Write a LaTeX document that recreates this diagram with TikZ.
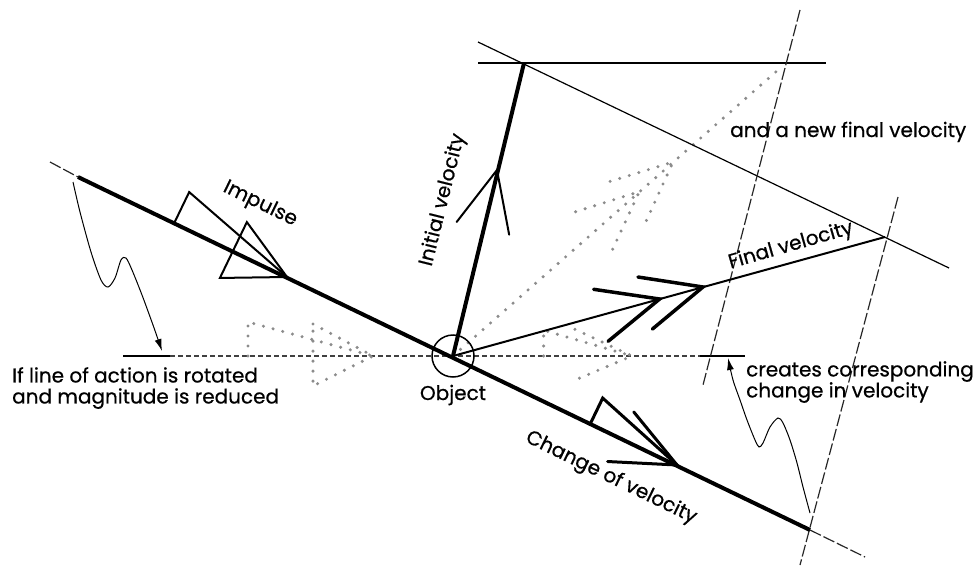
\documentclass[tikz,border=0pt]{standalone}
\usepackage{fontspec}
\setmainfont{Poppins}[FakeBold=0.6]
\usetikzlibrary{arrows.meta, calc}
\tikzset{
    txt/.style={font=\fontsize{20}{21}\selectfont, inner sep=0pt},
    thin-line/.style={color=black, line width=1.2pt},
    thick-line/.style={color=black, line width=4pt},
    vec-line/.style={color=black, line width=2pt},
    dash-line/.style={color=black!85, line width=1.2pt, dash pattern=on 12pt off 3pt},
    short-dash/.style={color=black!75, line width=1.3pt, dash pattern=on 5pt off 3pt},
    dot-line/.style={color=black!45, line width=3.4pt, line cap=round, dash pattern=on 0pt off 10pt},
    squiggle/.style={color=black, line width=1pt, -{Latex[length=12pt, width=7pt]}},
    head/.style={color=black, line width=3pt, line cap=round},
    vhead/.pic={\draw (-60,-27) -- (0,0) -- (-60,27);},
    dvhead/.pic={\draw (-60,-27) -- (0,0) -- (-60,27); \draw (-106,-27) -- (-45,0) -- (-106,27);},
    impulsehead/.pic={\draw (-125,0) -- (-125,-34) -- (0,0); \draw (-60,-32) -- (0,0) -- (-60,30) -- cycle;},
    changehead/.pic={\draw (-96,0) -- (-96,-28) -- (0,0); \draw (-62,-29) -- (0,0) -- (-64,27);}
}
\begin{document}
\begin{tikzpicture}[x=1pt, y=-1pt]
    \useasboundingbox (0,0) rectangle (976,567);

    \coordinate (O) at (453,356);
    \coordinate (A) at (524,63);
    \coordinate (B) at (885,237);
    \coordinate (C) at (810,530);
    \coordinate (D) at (778,70);
    \coordinate (start) at (78,177);
    \coordinate (startx) at (50,162);
    \coordinate (endx) at (865,557);
    \coordinate (topL) at (478,63);
    \coordinate (topR) at (826,63);
    \coordinate (parL) at (478,42);
    \coordinate (parR) at (949,268);
    \coordinate (l1a) at (800,10);
    \coordinate (l1b) at (703,385);
    \coordinate (l2a) at (898,197);
    \coordinate (l2b) at (800,565);
    \coordinate (h0) at (123,356);
    \coordinate (h1) at (170,356);
    \coordinate (h2) at (700,356);
    \coordinate (h3) at (745,356);
    \coordinate (timp) at (287,277);
    \coordinate (tchg) at (677,465);
    \coordinate (tini) at (497,170);
    \coordinate (tfin) at (703,287);
    \coordinate (tdot) at (673,162);
    \coordinate (himp) at (373,356);
    \coordinate (hchg) at (632,356);

    \draw [thin-line] (h0) -- (h1);
    \draw [short-dash] (h1) -- (h2);
    \draw [thin-line] (h2) -- (h3);
    \pic [dot-line] at (himp) {impulsehead};
    \pic [dot-line, scale=0.92] at (hchg) {changehead};
    \draw [dot-line] (O) -- (D);
    \pic [dot-line, rotate=41.35] at (tdot) {dvhead};

    \draw [thin-line] (topL) -- (topR);
    \draw [thin-line] (parL) -- (parR);
    \draw [dash-line] (l1a) -- (l1b);
    \draw [dash-line] (l2a) -- (l2b);
    \draw [dash-line] (startx) -- (start);
    \draw [dash-line] (C) -- (endx);

    \draw [thick-line] (start) -- (C);
    \pic [head, line width=2pt, rotate=-25.75] at (timp) {impulsehead};
    \pic [head, rotate=-25.75] at (tchg) {changehead};
    \draw [thick-line] (O) -- (A);
    \pic [head, line width=2pt, rotate=76.4] at (tini) {vhead};
    \draw [vec-line] (O) -- (B);
    \pic [head, line width=3.5pt, rotate=15.5] at (tfin) {dvhead};

    \node [circle, draw, line width=1.5pt, minimum size=42pt, inner sep=0pt] (obj) at (O) {};
    \node [txt, anchor=base] (objtext) at (453,400) {Object};

    \draw [squiggle] plot [smooth] coordinates {(73,182) (80,212) (91,252) (101,280) (108,287) (115,278) (121,260) (126,258) (132,270) (142,295) (153,325) (162,351)};
    \draw [squiggle] plot [smooth] coordinates {(810,513) (803,487) (797,463) (790,440) (783,423) (778,418) (770,427) (763,443) (759,447) (755,440) (747,420) (740,400) (733,380) (728,358)};

    \node [txt, rotate=-26, anchor=base west] (impulse) at (222,191) {Impulse};
    \node [txt, rotate=76] (initial) at (443,200) {Initial velocity};
    \node [txt, rotate=16] (final) at (791,246) {Final velocity};
    \node [txt, anchor=base west] (newfinal) at (730,137) {and a new final velocity};
    \node [txt, rotate=-26] (change) at (611,478) {Change of velocity};
    \node [txt, anchor=north west, align=left] (rotated) at (12,367) {If line of action is rotated\\and magnitude is reduced};
    \node [txt, anchor=north west, align=left] (creates) at (746,361) {creates corresponding\\change in velocity};
\end{tikzpicture}
\end{document}
